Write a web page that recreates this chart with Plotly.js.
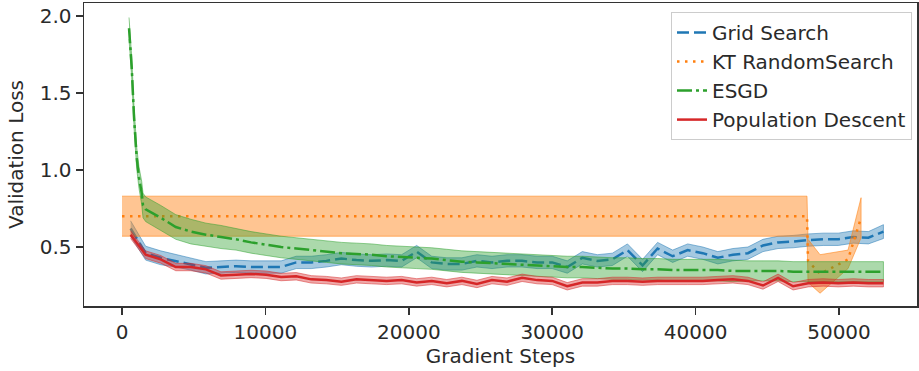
<!DOCTYPE html>
<html>
<head>
<meta charset="utf-8">
<script src="https://cdn.plot.ly/plotly-3.0.1.min.js"></script>
<style>html,body{margin:0;padding:0;background:#fff;}#chart{width:919px;height:371px;}</style>
</head>
<body>
<div id="chart"></div>
<script>
// ---- data ----
const steps = [600,1650,2700,3750,4800,5850,6900,7950,9000,10050,11100,12150,13200,14250,15300,16350,17400,18450,19500,20550,21600,22650,23700,24750,25800,26850,27900,28950,30000,31050,32100,33150,34200,35250,36300,37350,38400,39450,40500,41550,42600,43650,44700,45750,46800,47850,48900,49950,51000,52050,53100];

const gridMean = [0.62,0.46,0.43,0.41,0.39,0.365,0.37,0.375,0.37,0.37,0.37,0.40,0.40,0.41,0.425,0.415,0.41,0.415,0.41,0.47,0.40,0.39,0.39,0.41,0.40,0.41,0.41,0.40,0.40,0.37,0.43,0.41,0.42,0.48,0.38,0.49,0.44,0.48,0.46,0.43,0.45,0.46,0.51,0.53,0.535,0.545,0.55,0.55,0.565,0.56,0.60];
const gridStd = [0.05,0.045,0.045,0.04,0.04,0.04,0.04,0.04,0.04,0.04,0.04,0.04,0.04,0.04,0.04,0.04,0.04,0.04,0.04,0.04,0.04,0.04,0.04,0.04,0.04,0.04,0.04,0.04,0.04,0.04,0.04,0.04,0.04,0.04,0.04,0.04,0.04,0.04,0.04,0.04,0.04,0.04,0.04,0.04,0.04,0.04,0.04,0.04,0.04,0.04,0.045];

const ktSteps = [0,47770,47840,48680,50630,51540];
const ktMean = [0.70,0.70,0.41,0.325,0.42,0.69];
const ktStd = [0.13,0.13,0.14,0.125,0.06,0.13];

const esgdSteps = [490,675,840,1025,1185,1375,1465,1650,2700,3750,4800,5850,6900,7950,9000,10050,11100,12150,13200,14250,15300,16350,17400,18450,19500,20550,21600,22650,23700,24750,25800,26850,27900,28950,30000,31050,32100,33150,34200,35250,36300,37350,38400,39450,40500,41550,42600,43650,44700,45750,46800,47850,48900,49950,51000,52050,53100];
const esgdMean = [1.92,1.67,1.34,1.08,0.95,0.85,0.77,0.745,0.69,0.63,0.60,0.58,0.565,0.55,0.53,0.515,0.50,0.49,0.48,0.47,0.46,0.455,0.45,0.44,0.435,0.43,0.425,0.415,0.405,0.40,0.395,0.39,0.385,0.38,0.375,0.37,0.37,0.365,0.36,0.36,0.355,0.355,0.35,0.35,0.35,0.35,0.345,0.345,0.345,0.345,0.34,0.34,0.34,0.34,0.34,0.34,0.34];
const esgdStd = [0.07,0.07,0.07,0.07,0.07,0.075,0.08,0.08,0.08,0.08,0.08,0.075,0.075,0.07,0.07,0.07,0.07,0.07,0.07,0.07,0.07,0.07,0.07,0.07,0.07,0.07,0.07,0.07,0.07,0.07,0.07,0.07,0.07,0.07,0.07,0.07,0.07,0.07,0.07,0.07,0.07,0.07,0.07,0.07,0.07,0.07,0.07,0.065,0.065,0.065,0.065,0.065,0.065,0.065,0.065,0.065,0.065];

const popMean = [0.58,0.45,0.42,0.37,0.37,0.355,0.315,0.32,0.325,0.32,0.305,0.31,0.29,0.285,0.275,0.29,0.285,0.28,0.285,0.27,0.28,0.265,0.28,0.26,0.285,0.275,0.30,0.285,0.28,0.245,0.27,0.27,0.28,0.28,0.275,0.28,0.28,0.28,0.28,0.285,0.29,0.28,0.25,0.30,0.245,0.265,0.27,0.265,0.27,0.265,0.265];
const popStd = [0.025,0.025,0.025,0.024,0.024,0.024,0.024,0.024,0.024,0.024,0.024,0.024,0.024,0.024,0.024,0.024,0.024,0.024,0.024,0.024,0.024,0.024,0.024,0.024,0.024,0.024,0.024,0.024,0.024,0.024,0.024,0.024,0.024,0.024,0.024,0.024,0.024,0.024,0.024,0.024,0.024,0.024,0.024,0.024,0.024,0.024,0.024,0.024,0.024,0.024,0.024];

const seriesNames = ["Grid Search","KT RandomSearch","ESGD","Population Descent"];
const xTicks = [0,10000,20000,30000,40000,50000];
const yTicks = [0.5,1.0,1.5,2.0];

// ---- build traces ----
function band(x, m, s, rgb, alpha) {
  const up = m.map((v,i)=>v+s[i]);
  const lo = m.map((v,i)=>v-s[i]);
  return {
    x: x.concat(x.slice().reverse()),
    y: up.concat(lo.slice().reverse()),
    type: 'scatter', mode: 'lines', fill: 'toself',
    fillcolor: `rgba(${rgb},${alpha})`,
    line: {color: `rgba(${rgb},${alpha+0.1})`, width: 1},
    hoverinfo: 'skip', showlegend: false
  };
}
function line(x, m, rgb, dash, name) {
  return {x: x, y: m, type: 'scatter', mode: 'lines', name: name,
    line: {color: `rgb(${rgb})`, width: 2.5, dash: dash}};
}
const BLUE='31,119,180', ORANGE='255,127,14', GREEN='44,160,44', RED='214,39,40';
const traces = [
  band(steps, gridMean, gridStd, BLUE, 0.4),
  line(steps, gridMean, BLUE, '12px,5px', seriesNames[0]),
  band(ktSteps, ktMean, ktStd, ORANGE, 0.45),
  line(ktSteps, ktMean, ORANGE, '2.5px,5.5px', seriesNames[1]),
  band(esgdSteps, esgdMean, esgdStd, GREEN, 0.4),
  line(esgdSteps, esgdMean, GREEN, '15px,4px,3px,4px', seriesNames[2]),
  band(steps, popMean, popStd, RED, 0.4),
  line(steps, popMean, RED, 'solid', seriesNames[3])
];

const FONT = {family: 'DejaVu Sans, sans-serif', size: 20, color: '#2a2a2a'};
const layout = {
  width: 919, height: 371,
  margin: {l: 84, r: 2, t: 3, b: 65},
  paper_bgcolor: '#fff', plot_bgcolor: '#fff',
  font: FONT,
  showlegend: true,
  legend: {x: 0.994, xanchor: 'right', y: 0.97, yanchor: 'top',
    bgcolor: 'rgba(255,255,255,0.8)', bordercolor: '#cccccc', borderwidth: 1,
    font: FONT, tracegroupgap: 0},
  xaxis: {range: [-2650, 55440], tickvals: xTicks, ticktext: xTicks.map(String),
    showgrid: false, zeroline: false, showline: true, mirror: true,
    linecolor: '#333', linewidth: 1.5, ticks: 'outside', ticklen: 7, tickwidth: 1.5,
    tickcolor: '#333', tickfont: FONT,
    title: {text: 'Gradient Steps', font: FONT, standoff: 6}},
  yaxis: {range: [0.117, 2.084], tickvals: yTicks, ticktext: yTicks.map(v=>v.toFixed(1)),
    showgrid: false, zeroline: false, showline: true, mirror: true,
    linecolor: '#333', linewidth: 1.5, ticks: 'outside', ticklen: 7, tickwidth: 1.5,
    tickcolor: '#333', tickfont: FONT,
    title: {text: 'Validation Loss', font: FONT, standoff: 10}}
};
Plotly.newPlot('chart', traces, layout, {displayModeBar: false, staticPlot: true});
</script>
</body>
</html>
